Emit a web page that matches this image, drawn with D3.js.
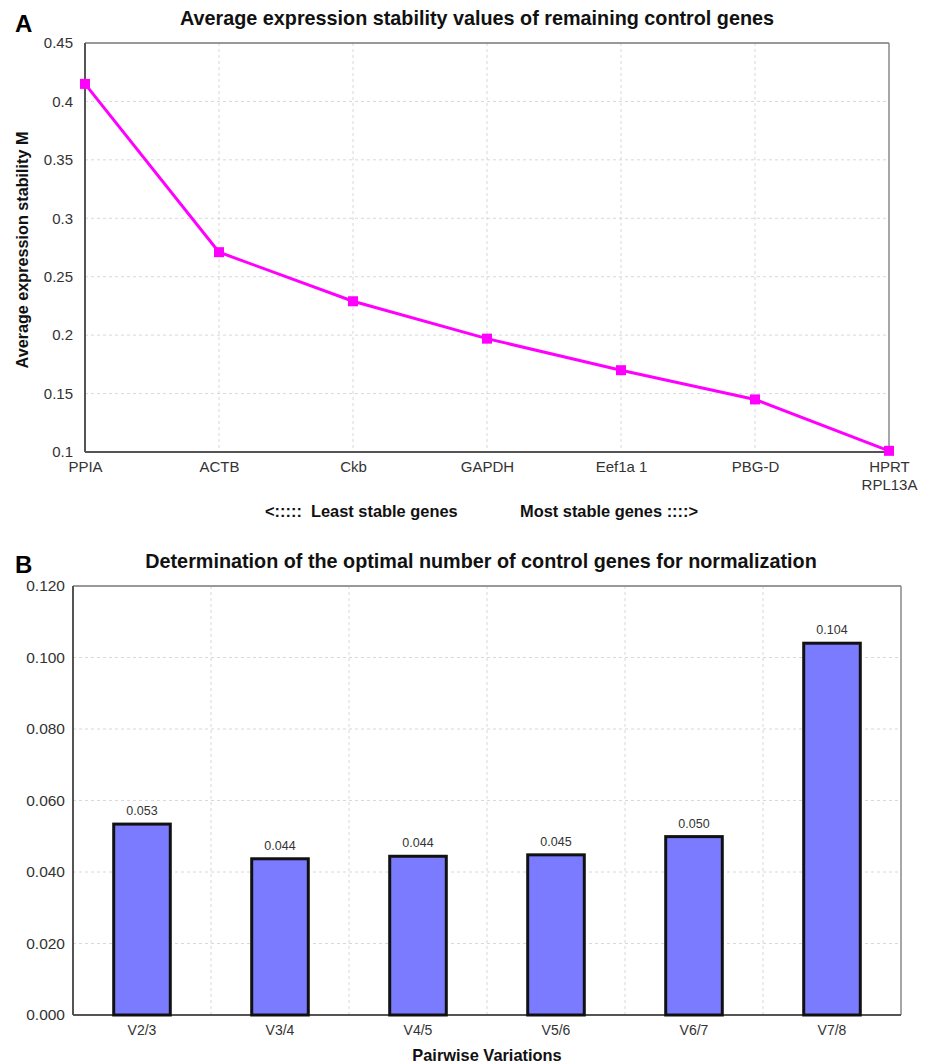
<!DOCTYPE html>
<html><head><meta charset="utf-8">
<script src="https://cdn.jsdelivr.net/npm/d3@7"></script>
<style>body{margin:0;background:#fff}svg{display:block;font-family:Arial,"Liberation Sans",sans-serif}</style>
</head><body>
<script>
// Chart A data
const genes = ["PPIA","ACTB","Ckb","GAPDH","Eef1a 1","PBG-D","HPRT\nRPL13A"];
const stabilityM = [0.415,0.271,0.229,0.197,0.170,0.145,0.101];
const yTicksA = [0.1,0.15,0.2,0.25,0.3,0.35,0.4,0.45];
// Chart B data
const pairs = ["V2/3","V3/4","V4/5","V5/6","V6/7","V7/8"];
const pairwiseV = [0.0534,0.0437,0.0444,0.0448,0.0499,0.1040];
const yTicksB = [0,0.02,0.04,0.06,0.08,0.1,0.12];

const W=931,H=1064;
const FF="Arial,'Liberation Sans',sans-serif";
const svg=d3.select("body").append("svg").attr("width",W).attr("height",H);

function frame(g,x0,x1,y0,y1){
  g.append("line").attr("x1",x0).attr("x2",x1).attr("y1",y0).attr("y2",y0).attr("stroke","#777").attr("stroke-width",1.5);
  g.append("line").attr("x1",x1).attr("x2",x1).attr("y1",y0).attr("y2",y1).attr("stroke","#888").attr("stroke-width",1.5);
  g.append("line").attr("x1",x0).attr("x2",x0).attr("y1",y0).attr("y2",y1).attr("stroke","#555").attr("stroke-width",2);
  g.append("line").attr("x1",x0).attr("x2",x1).attr("y1",y1).attr("y2",y1).attr("stroke","#555").attr("stroke-width",2);
}

// ---------- Chart A ----------
{
  const L=85,R=889,T=43,B=452;
  const x=d3.scalePoint().domain(genes).range([L,R]);
  const y=d3.scaleLinear().domain([0.1,0.45]).range([B,T]);
  const g=svg.append("g");
  g.selectAll(".hg").data(yTicksA.slice(1,-1)).join("line")
    .attr("x1",L).attr("x2",R).attr("y1",d=>y(d)).attr("y2",d=>y(d))
    .attr("stroke","#d8d8d8").attr("stroke-dasharray","3,3");
  g.selectAll(".vg").data(genes.slice(1,-1)).join("line")
    .attr("x1",d=>x(d)).attr("x2",d=>x(d)).attr("y1",T).attr("y2",B)
    .attr("stroke","#d8d8d8").attr("stroke-dasharray","3,3");
  frame(g,L,R,T,B);
  const ya=g.append("g").attr("transform",`translate(${L},0)`)
    .call(d3.axisLeft(y).tickValues(yTicksA).tickSize(0).tickPadding(12).tickFormat(d=>String(+d.toFixed(2))));
  ya.select(".domain").remove();
  ya.selectAll("text").attr("font-size",15).attr("fill","#333").attr("font-family",FF);
  const xa=g.append("g").attr("transform",`translate(0,${B})`)
    .call(d3.axisBottom(x).tickSize(0).tickFormat(""));
  xa.select(".domain").remove();
  xa.selectAll(".tick").each(function(d){
    const t=d3.select(this).append("text").attr("fill","#333").attr("font-size",15)
      .attr("text-anchor","middle").attr("font-family",FF);
    d.split("\n").forEach((s,i)=>t.append("tspan").attr("x",0).attr("y",20+i*18).text(s));
  });
  g.append("path").datum(stabilityM)
    .attr("d",d3.line().x((d,i)=>x(genes[i])).y(d=>y(d)))
    .attr("fill","none").attr("stroke","#ff00ff").attr("stroke-width",3);
  g.selectAll(".pt").data(stabilityM).join("rect")
    .attr("x",(d,i)=>x(genes[i])-5).attr("y",d=>y(d)-5).attr("width",10).attr("height",10).attr("fill","#ff00ff");
  svg.append("text").attr("x",15).attr("y",32).attr("font-size",24).attr("font-weight","bold").text("A");
  svg.append("text").attr("x",477).attr("y",25).attr("text-anchor","middle").attr("font-size",19.8).attr("font-weight","bold").attr("fill","#111")
    .text("Average expression stability values of remaining control genes");
  svg.append("text").attr("transform",`translate(28,250) rotate(-90)`).attr("text-anchor","middle")
    .attr("font-size",16.2).attr("font-weight","bold").attr("fill","#111").text("Average expression stability M");
  svg.append("text").attr("x",265).attr("y",517).attr("font-size",16.4).attr("font-weight","bold").attr("fill","#111").attr("xml:space","preserve").text("<:::::  Least stable genes");
  svg.append("text").attr("x",520).attr("y",517).attr("font-size",16.4).attr("font-weight","bold").attr("fill","#111").text("Most stable genes ::::>");
}

// ---------- Chart B ----------
{
  const L=73,R=901,T=586,B=1015;
  const x=d3.scaleBand().domain(pairs).range([L,R]).paddingInner(0.59).paddingOuter(0.295);
  const xb=d3.scaleBand().domain(pairs).range([L,R]);
  const y=d3.scaleLinear().domain([0,0.12]).range([B,T]);
  const g=svg.append("g");
  g.selectAll(".hg").data(yTicksB.slice(1,-1)).join("line")
    .attr("x1",L).attr("x2",R).attr("y1",d=>y(d)).attr("y2",d=>y(d))
    .attr("stroke","#d8d8d8").attr("stroke-dasharray","3,3");
  g.selectAll(".vg").data(pairs.slice(1)).join("line")
    .attr("x1",d=>xb(d)).attr("x2",d=>xb(d)).attr("y1",T).attr("y2",B)
    .attr("stroke","#d8d8d8").attr("stroke-dasharray","3,3");
  frame(g,L,R,T,B);
  const ya=g.append("g").attr("transform",`translate(${L},0)`)
    .call(d3.axisLeft(y).tickValues(yTicksB).tickSize(0).tickPadding(8).tickFormat(d3.format(".3f")));
  ya.select(".domain").remove();
  ya.selectAll("text").attr("font-size",15.5).attr("fill","#333").attr("font-family",FF);
  const xa=g.append("g").attr("transform",`translate(0,${B})`)
    .call(d3.axisBottom(xb).tickSize(0).tickPadding(10));
  xa.select(".domain").remove();
  xa.selectAll("text").attr("font-size",14).attr("fill","#333").attr("font-family",FF);
  g.selectAll(".bar").data(pairwiseV).join("rect")
    .attr("x",(d,i)=>x(pairs[i])).attr("width",x.bandwidth())
    .attr("y",d=>y(d)).attr("height",d=>B-y(d))
    .attr("fill","#7b7bff").attr("stroke","#111").attr("stroke-width",3);
  g.selectAll(".vl").data(pairwiseV).join("text")
    .attr("x",(d,i)=>x(pairs[i])+x.bandwidth()/2).attr("y",d=>y(d)-9)
    .attr("text-anchor","middle").attr("font-size",12.5).attr("fill","#333").text(d=>d3.format(".3f")(d));
  svg.append("text").attr("x",15).attr("y",573).attr("font-size",24).attr("font-weight","bold").text("B");
  svg.append("text").attr("x",481).attr("y",568).attr("text-anchor","middle").attr("font-size",19.8).attr("font-weight","bold").attr("fill","#111")
    .text("Determination of the optimal number of control genes for normalization");
  svg.append("text").attr("x",(L+R)/2).attr("y",1061).attr("text-anchor","middle").attr("font-size",16.4).attr("font-weight","bold").attr("fill","#111").text("Pairwise Variations");
}
</script>
</body></html>
